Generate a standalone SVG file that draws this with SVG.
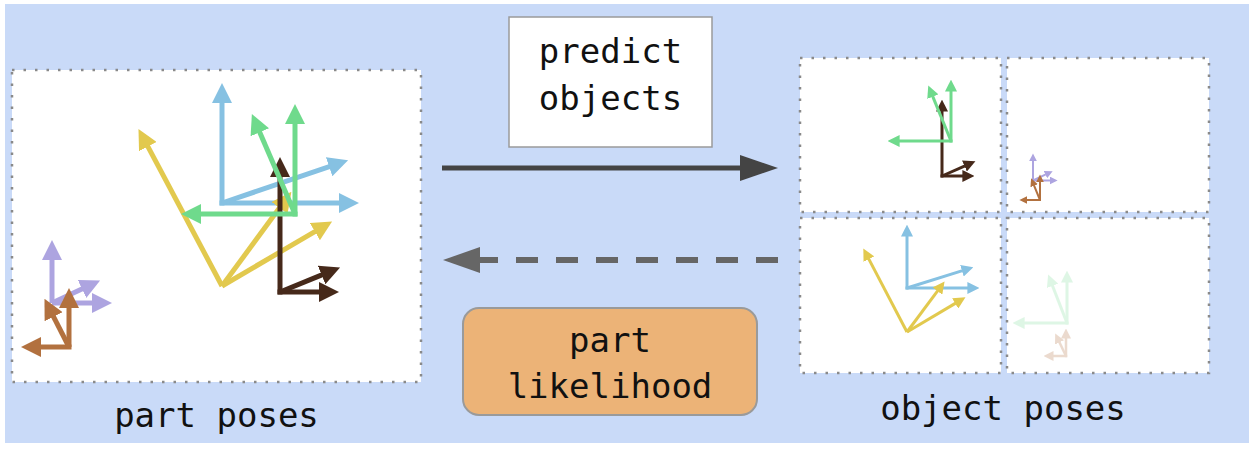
<svg xmlns="http://www.w3.org/2000/svg" width="1256" height="452" viewBox="0 0 1256 452">
  <style>
    .panel { fill: #ffffff; stroke: #8a8a8a; stroke-width: 2.5; stroke-dasharray: 2.5 9; }
    .lbl { font-family: "DejaVu Sans Mono", "Liberation Mono", monospace; font-size: 34px; fill: #111; text-anchor: middle; }
    .ax { fill: none; stroke-linecap: butt; }
    .s5 { stroke-width: 5; }
    .s3 { stroke-width: 3; }
    .s2 { stroke-width: 2; }
    .blue { stroke: #86c1e2; marker-end: url(#hBlue); }
    .green { stroke: #6fda8c; marker-end: url(#hGreen); }
    .yellow { stroke: #e2c94e; marker-end: url(#hYellow); }
    .dark { stroke: #46291a; marker-end: url(#hDark); }
    .lav { stroke: #ada4e0; marker-end: url(#hLav); }
    .brown { stroke: #b2713f; marker-end: url(#hBrown); }
  </style>
  <defs>
    <marker id="hBlue" viewBox="0 0 4 4" markerWidth="4" markerHeight="4" refX="0.2" refY="2" orient="auto" markerUnits="strokeWidth"><path d="M0,0 L4,2 L0,4 z" fill="#86c1e2"/></marker>
    <marker id="hGreen" viewBox="0 0 4 4" markerWidth="4" markerHeight="4" refX="0.2" refY="2" orient="auto" markerUnits="strokeWidth"><path d="M0,0 L4,2 L0,4 z" fill="#6fda8c"/></marker>
    <marker id="hYellow" viewBox="0 0 4 4" markerWidth="4" markerHeight="4" refX="0.2" refY="2" orient="auto" markerUnits="strokeWidth"><path d="M0,0 L4,2 L0,4 z" fill="#e2c94e"/></marker>
    <marker id="hDark" viewBox="0 0 4 4" markerWidth="4" markerHeight="4" refX="0.2" refY="2" orient="auto" markerUnits="strokeWidth"><path d="M0,0 L4,2 L0,4 z" fill="#46291a"/></marker>
    <marker id="hLav" viewBox="0 0 4 4" markerWidth="4" markerHeight="4" refX="0.2" refY="2" orient="auto" markerUnits="strokeWidth"><path d="M0,0 L4,2 L0,4 z" fill="#ada4e0"/></marker>
    <marker id="hBrown" viewBox="0 0 4 4" markerWidth="4" markerHeight="4" refX="0.2" refY="2" orient="auto" markerUnits="strokeWidth"><path d="M0,0 L4,2 L0,4 z" fill="#b2713f"/></marker>
  </defs>

  <rect id="background" x="5" y="4" width="1244" height="439" fill="#c9daf8"/>

  <g id="part-poses">
    <rect class="panel" x="12" y="70" width="409" height="312"/>
    <g class="ax s5">
      <line class="lav" x1="52" y1="303" x2="52" y2="259"/>
      <line class="lav" x1="52" y1="303" x2="93" y2="303"/>
      <line class="lav" x1="52" y1="303" x2="82.9" y2="288.5"/>
      <line class="brown" x1="69" y1="347" x2="69" y2="307"/>
      <line class="brown" x1="71.5" y1="347" x2="40" y2="347"/>
      <line class="brown" x1="69" y1="347" x2="53.1" y2="315.8"/>
      <line class="blue" x1="222" y1="205.5" x2="222" y2="102"/>
      <line class="blue" x1="219.5" y1="203" x2="340" y2="203"/>
      <line class="blue" x1="222" y1="203" x2="330.1" y2="166.4"/>
      <line class="yellow" x1="222" y1="286" x2="147.4" y2="145.7"/>
      <line class="yellow" x1="222" y1="286" x2="315.7" y2="231.1"/>
      <line class="yellow" x1="222" y1="286" x2="280.1" y2="207.1"/>
      <line class="dark" x1="280" y1="294.5" x2="280" y2="176"/>
      <line class="dark" x1="277.5" y1="292" x2="320" y2="292"/>
      <line class="dark" x1="280" y1="292" x2="322.5" y2="274.6"/>
      <line class="green" x1="295" y1="216.5" x2="295" y2="123"/>
      <line class="green" x1="297.5" y1="214" x2="200" y2="214"/>
      <line class="green" x1="295" y1="214" x2="259.4" y2="131.4"/>
    </g>
  </g>

  <g id="object-pose-1">
    <rect class="panel" x="800" y="58" width="201" height="154"/>
    <g class="ax s3">
      <line class="dark" x1="942" y1="177.5" x2="942" y2="111"/>
      <line class="dark" x1="940.5" y1="176" x2="963" y2="176"/>
      <line class="dark" x1="942" y1="176" x2="965" y2="165.8"/>
      <line class="green" x1="951" y1="142.5" x2="951" y2="91"/>
      <line class="green" x1="952.5" y1="141" x2="899" y2="141"/>
      <line class="green" x1="951" y1="141" x2="932.6" y2="96.1"/>
    </g>
  </g>

  <g id="object-pose-2">
    <rect class="panel" x="1007" y="58" width="202" height="154"/>
    <g class="ax s2">
      <line class="lav" x1="1033" y1="181.5" x2="1033" y2="161"/>
      <line class="lav" x1="1032" y1="180.5" x2="1050" y2="180.5"/>
      <line class="lav" x1="1033" y1="180.5" x2="1045.8" y2="174.4"/>
      <line class="brown" x1="1040" y1="201" x2="1040" y2="182"/>
      <line class="brown" x1="1041" y1="200" x2="1027" y2="200"/>
      <line class="brown" x1="1040" y1="200" x2="1034" y2="185.4"/>
    </g>
  </g>

  <g id="object-pose-3">
    <rect class="panel" x="800" y="218" width="201" height="155"/>
    <g class="ax s3">
      <line class="blue" x1="907" y1="289.5" x2="907" y2="236"/>
      <line class="blue" x1="905.5" y1="288" x2="968" y2="288"/>
      <line class="blue" x1="907" y1="288" x2="962.5" y2="270.6"/>
      <line class="yellow" x1="907" y1="332" x2="868.6" y2="258.6"/>
      <line class="yellow" x1="907" y1="332" x2="955.7" y2="303.1"/>
      <line class="yellow" x1="907" y1="332" x2="937.8" y2="290.6"/>
    </g>
  </g>

  <g id="object-pose-4">
    <rect class="panel" x="1007" y="218" width="202" height="155"/>
    <g class="ax s3" opacity="0.22">
      <line class="green" x1="1067" y1="324.5" x2="1067" y2="282"/>
      <line class="green" x1="1068.5" y1="323" x2="1024" y2="323"/>
      <line class="green" x1="1067" y1="323" x2="1052.3" y2="285.2"/>
    </g>
    <g class="ax" style="stroke-width:2.5" opacity="0.25">
      <line class="brown" x1="1066" y1="357.2" x2="1066" y2="338"/>
      <line class="brown" x1="1067.2" y1="356" x2="1053" y2="356"/>
      <line class="brown" x1="1066" y1="356" x2="1059.3" y2="342"/>
    </g>
  </g>

  <g id="predict-objects">
    <rect x="509" y="17" width="203" height="130" fill="#ffffff" stroke="#9a9a9a" stroke-width="1.5"/>
    <text class="lbl" x="610.5" y="63">predict</text>
    <text class="lbl" x="610.5" y="110">objects</text>
  </g>

  <g id="part-likelihood">
    <rect x="463" y="308" width="294" height="107" rx="16" ry="16" fill="#ecb377" stroke="#9a9a9a" stroke-width="2"/>
    <text class="lbl" x="610" y="352">part</text>
    <text class="lbl" x="610" y="398">likelihood</text>
  </g>

  <g id="connectors">
    <line x1="442" y1="168" x2="742" y2="168" stroke="#444444" stroke-width="5"/>
    <polygon points="740,155 778,168 740,181" fill="#444444"/>
    <line x1="778" y1="260" x2="477" y2="260" stroke="#666666" stroke-width="6" stroke-dasharray="22 18"/>
    <polygon points="480,247 443,260 480,273" fill="#666666"/>
  </g>

  <g id="labels">
    <text class="lbl" x="216.5" y="427">part poses</text>
    <text class="lbl" x="1003" y="420">object poses</text>
  </g>
</svg>
